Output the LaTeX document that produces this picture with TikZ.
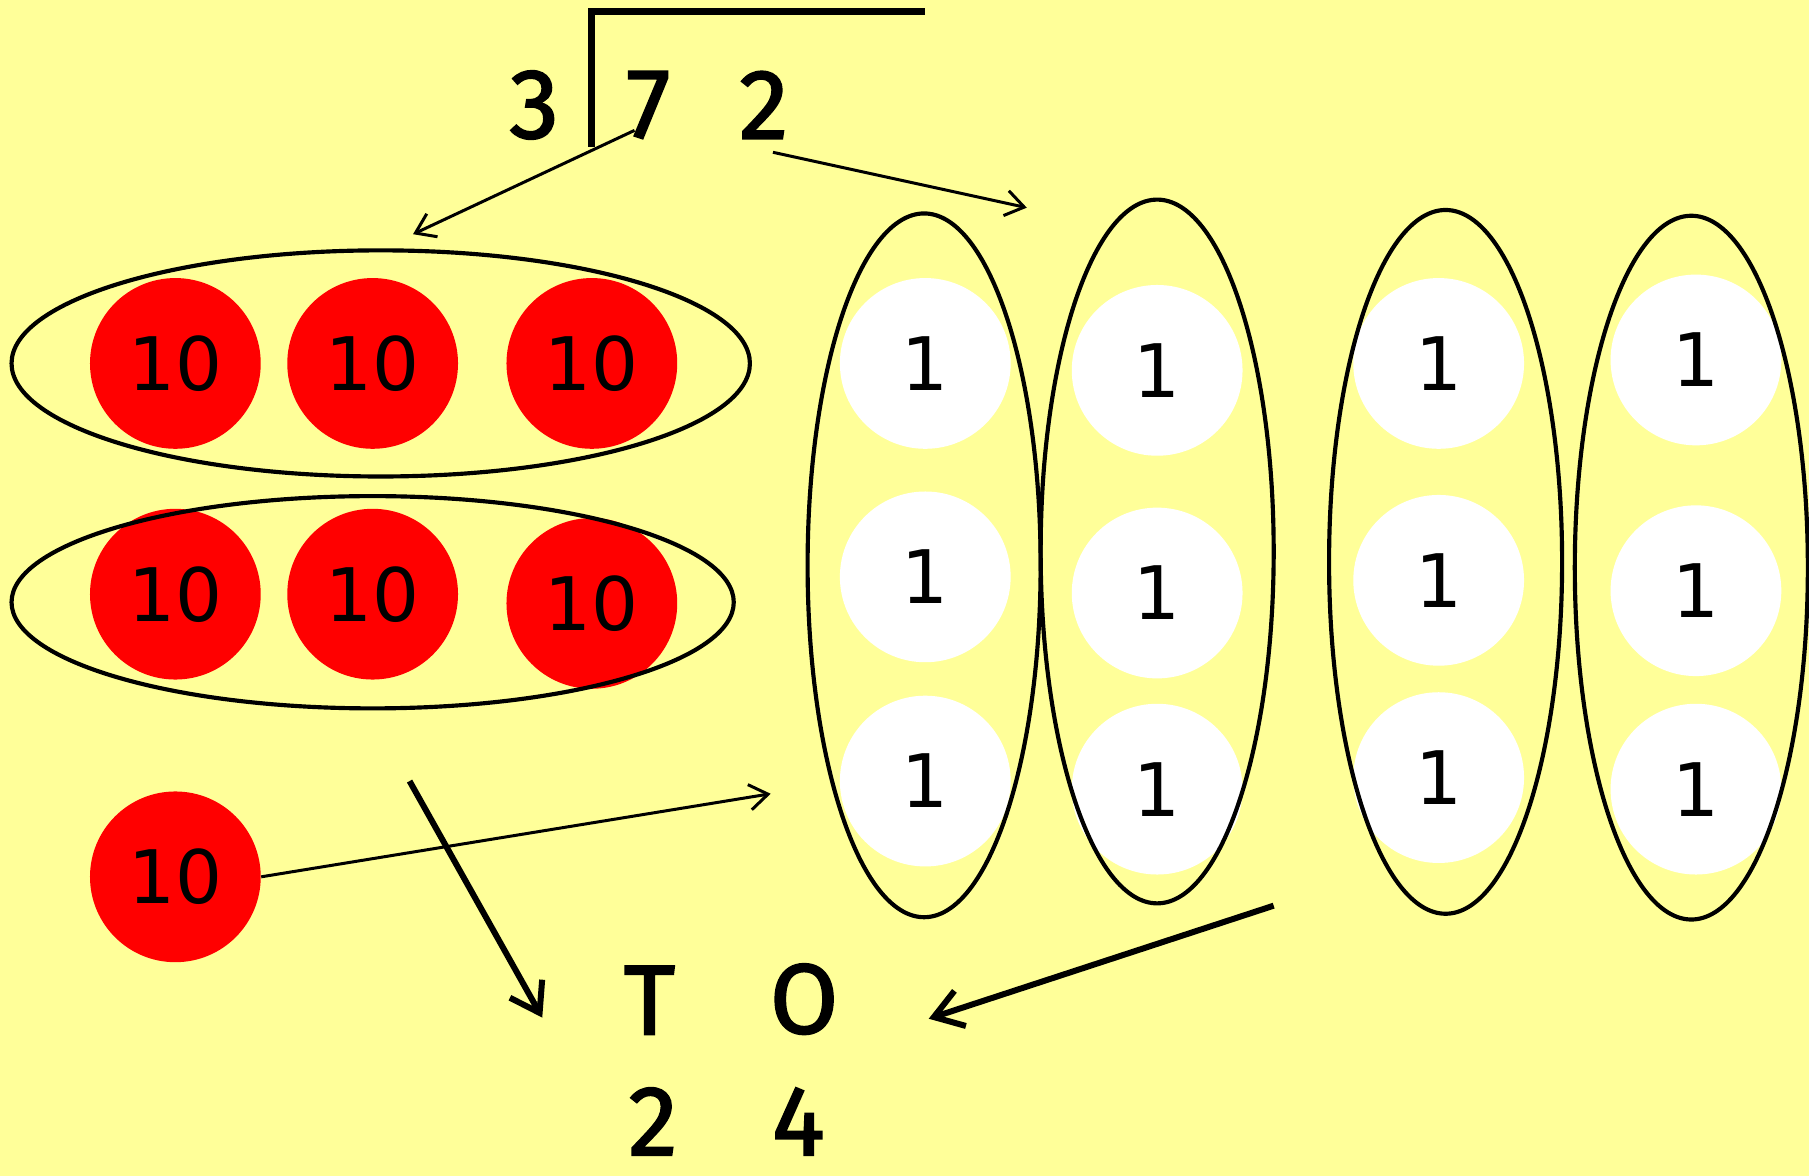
\documentclass[tikz,border=0pt]{standalone}
\usepackage{fontspec}
\usetikzlibrary{shapes.geometric,arrows.meta}
\newfontfamily\numfont{DejaVu Sans}
\newfontfamily\handfont[FakeBold=1.8]{Fira Sans}
\definecolor{bgyellow}{RGB}{255,255,153}
\begin{document}
\begin{tikzpicture}[x=0.5pt,y=-0.5pt,
  ten/.style={circle,fill=red,inner sep=0pt,minimum size=74pt,font=\numfont\fontsize{32}{32}\selectfont},
  onec/.style={circle,fill=white,inner sep=0pt,minimum size=74pt,font=\numfont\fontsize{32}{32}\selectfont},
  hgroup/.style={ellipse,draw,line width=1.8pt,inner sep=0pt},
  vgroup/.style={ellipse,draw,line width=1.8pt,inner sep=0pt,minimum width=101pt,minimum height=305pt},
  hand/.style={inner sep=0pt,font=\handfont\fontsize{43}{43}\selectfont},
  thinarrow/.style={line width=1.3pt,-{Straight Barb[length=8pt,width=11pt]}},
  thickarrow/.style={line width=2.6pt,-{Straight Barb[length=12pt,width=16pt]}}]
\fill[bgyellow] (0,0) rectangle (1568,1019);
\useasboundingbox (0,0) rectangle (1568,1019);
% division bracket
\coordinate (barL) at (513,10);
\coordinate (barR) at (802,10);
\coordinate (barB) at (513,127);
\draw[line width=3pt] (barB) -- (barL) -- (barR);
\node[hand] (d3) at (463,91) {3};
\node[hand] (d7) at (562,91) {7};
\node[hand] (d2) at (662,91) {2};
% red tens
\node[ten] (t1) at (152,315) {10};
\node[ten] (t2) at (323,315) {10};
\node[ten] (t3) at (513,315) {10};
\node[ten] (t4) at (152,515) {10};
\node[ten] (t5) at (323,515) {10};
\node[ten] (t6) at (513,523) {10};
\node[ten] (t7) at (152,760) {10};
\node[hgroup,minimum width=320pt,minimum height=98pt] (g1) at (330,315) {};
\node[hgroup,minimum width=313pt,minimum height=92pt] (g2) at (323,522) {};
% white ones
\node[onec] (o11) at (802,315) {1};
\node[onec] (o12) at (802,500) {1};
\node[onec] (o13) at (802,677) {1};
\node[onec] (o21) at (1003,321) {1};
\node[onec] (o22) at (1003,514) {1};
\node[onec] (o23) at (1003,684) {1};
\node[onec] (o31) at (1247,315) {1};
\node[onec] (o32) at (1247,503) {1};
\node[onec] (o33) at (1247,674) {1};
\node[onec] (o41) at (1470,312) {1};
\node[onec] (o42) at (1470,512) {1};
\node[onec] (o43) at (1470,684) {1};
\node[vgroup] (v1) at (801,490) {};
\node[vgroup] (v2) at (1003,478) {};
\node[vgroup] (v3) at (1253,487) {};
\node[vgroup] (v4) at (1466,492) {};
% result
\node[hand] (hT) at (563,867) {T};
\node[hand] (hO) at (697,866) {O};
\node[hand] (r2) at (566,972) {2};
\node[hand] (r4) at (692,972) {4};
% arrows
\coordinate (a1s) at (550,113);
\coordinate (a1e) at (358,203);
\coordinate (a2s) at (670,132);
\coordinate (a2e) at (890,180);
\coordinate (a3e) at (668,688);
\coordinate (a4s) at (355,677);
\coordinate (a4e) at (470,882);
\coordinate (a5s) at (1104,785);
\coordinate (a5e) at (805,883);
\draw[thinarrow] (a1s) -- (a1e);
\draw[thinarrow] (a2s) -- (a2e);
\draw[thinarrow] (t7.east) -- (a3e);
\draw[thickarrow] (a4s) -- (a4e);
\draw[thickarrow] (a5s) -- (a5e);
\end{tikzpicture}
\end{document}
